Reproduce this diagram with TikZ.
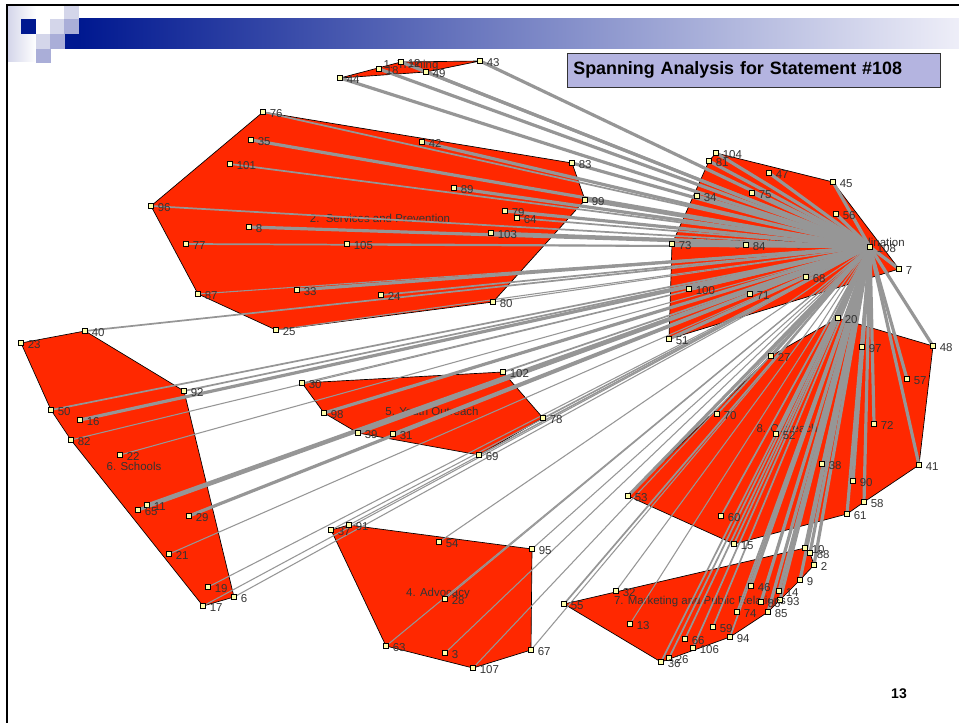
\documentclass[tikz,border=0pt]{standalone}
\usepackage{fontspec}
\setmainfont{Liberation Sans}
\usetikzlibrary{positioning}
\definecolor{HullRed}{RGB}{255,40,0}
\definecolor{LinkGray}{RGB}{150,150,150}
\definecolor{MarkYellow}{RGB}{255,255,170}
\definecolor{SlideBlue}{RGB}{0,24,144}
\definecolor{BarEnd}{RGB}{238,238,248}
\definecolor{PaleBlue}{RGB}{212,214,234}
\definecolor{MidBlue}{RGB}{170,174,216}
\definecolor{TitleFill}{RGB}{180,180,224}

\tikzset{
  hull/.style={fill=HullRed, draw=black, line width=0.5pt},
  link/.style={draw=LinkGray, line cap=round},
  pt/.style={draw=black, fill=MarkYellow, inner sep=0pt, minimum size=3.4pt, line width=0.4pt},
  ptlabel/.style={font=\fontsize{8.6}{9}\selectfont, text=black!80, inner sep=0pt},
  clulabel/.style={font=\fontsize{8.6}{9}\selectfont, text=black!80, inner sep=0pt},
}

\begin{document}
\begin{tikzpicture}[x=0.75pt, y=-0.75pt]
  \useasboundingbox (0,0) rectangle (959,723);

  % slide header
  \shade[left color=PaleBlue, right color=white] (8,6) rectangle (36,62);
  \fill[SlideBlue] (21,19) rectangle (36,34);
  \fill[PaleBlue] (50,19) rectangle (64,34);
  \fill[MidBlue] (64,19) rectangle (79,34);
  \fill[PaleBlue] (64,6) rectangle (79,19);
  \fill[PaleBlue] (36,34) rectangle (50,49);
  \fill[MidBlue] (50,34) rectangle (65,49);
  \fill[MidBlue] (36,49) rectangle (51,63);
  \fill[SlideBlue] (65,34) rectangle (79,49);
  \shade[left color=SlideBlue, right color=BarEnd] (79,19) rectangle (959,49);
  \draw[line width=1.1pt] (7,723) -- (7,5) -- (959,5);

  % statement positions
  \foreach \n/\x/\y in {
    44/340/78, 18/379/69, 12/401/62, 49/426/72, 43/480/61,
    76/263/112, 35/251/140, 101/230/164, 42/422/142, 83/572/163, 89/454/188,
    96/151/206, 99/585/200, 79/505/211, 64/517/218, 8/249/227, 103/491/233,
    77/186/244, 105/347/244, 33/297/290, 87/198/294, 24/381/295, 80/493/302, 25/276/330,
    104/716/153, 81/709/161, 47/769/173, 45/833/182, 75/752/193, 34/697/196,
    56/836/214, 73/672/244, 84/746/245, 108/870/247, 7/899/269, 68/806/277,
    100/689/289, 71/750/294, 51/669/339,
    20/838/318, 48/933/346, 97/862/347, 27/771/356, 57/907/379, 70/717/414,
    72/874/424, 52/776/434, 38/822/464, 41/919/465, 90/853/481, 53/628/496,
    58/864/502, 61/847/514, 60/721/516, 15/734/544,
    40/85/331, 23/21/343, 92/184/391, 50/51/410, 16/80/420, 82/71/440,
    22/120/455, 11/147/505, 65/138/510, 29/189/516, 21/169/554, 19/208/587,
    6/234/597, 17/203/606,
    30/302/383, 102/503/372, 98/324/413, 39/358/433, 31/393/434, 78/543/418, 69/479/455,
    37/331/530, 91/349/525, 54/439/542, 95/532/549, 28/445/599, 63/386/646,
    3/445/653, 107/473/668, 67/531/650,
    10/805/548, 88/810/553, 2/814/565, 9/800/580, 32/616/591, 46/751/586,
    14/779/591, 55/564/604, 93/780/600, 86/761/602, 74/737/612, 85/768/612,
    13/630/624, 59/713/627, 94/730/637, 66/685/639, 106/693/648, 26/669/658, 36/661/662}
    \coordinate (p\n) at (\x,\y);

  % cluster hulls
  \filldraw[hull] (p44) -- (p12) -- (p43) -- (p49) -- cycle;
  \filldraw[hull] (p76) -- (p83) -- (p99) -- (p80) -- (p25) -- (p87) -- (p96) -- cycle;
  \filldraw[hull] (p104) -- (p45) -- (p7) -- (p51) -- (p73) -- (p81) -- cycle;
  \filldraw[hull] (p20) -- (p48) -- (p41) -- (p58) -- (p61) -- (p15) -- (p53) -- (p27) -- cycle;
  \filldraw[hull] (p40) -- (p92) -- (p6) -- (p17) -- (p82) -- (p50) -- (p23) -- cycle;
  \filldraw[hull] (p30) -- (p102) -- (p78) -- (p69) -- (p39) -- (p98) -- cycle;
  \filldraw[hull] (p37) -- (p91) -- (p95) -- (p67) -- (p107) -- (p63) -- cycle;
  \filldraw[hull] (p55) -- (p10) -- (p88) -- (p2) -- (p9) -- (p85) -- (p94) -- (p36) -- cycle;

  % cluster names
  \node[clulabel] (c1) at (411,66) {1. Training};
  \node[clulabel] (c2) at (380,218) {2.\ \ Services and Prevention};
  \node[clulabel] (c3) at (798,244) {3. Interagency Linkages and Coordination};
  \node[clulabel] (c4) at (438,594) {4. Advocacy};
  \node[clulabel] (c5) at (432,411) {5. Youth Outreach};
  \node[clulabel] (c6) at (134,466) {6. Schools};
  \node[clulabel] (c7) at (700,602) {7. Marketing and Public Relations};
  \node[clulabel] (c8) at (787,428) {8. Outreach};

  % links from statement 108
  \foreach \n/\w in {
    44/2.4, 18/2.4, 12/2.4, 49/2.4, 43/2.4,
    76/1.3, 35/2.4, 101/1.3, 42/2.4, 83/2.4, 89/2.4, 96/1.3, 99/2.4, 79/2.4,
    64/1.3, 8/2.4, 103/2.4, 77/1.3, 105/1.3, 33/2.4, 87/0.8, 24/1.3, 80/0.8, 25/0.8,
    104/2.4, 81/2.4, 47/2.4, 45/2.4, 75/2.4, 34/2.4, 56/2.4, 73/2.4, 84/2.4,
    7/2.4, 68/2.4, 100/2.4, 71/2.4, 51/2.4,
    20/2.4, 48/2.4, 97/2.4, 27/2.4, 57/2.4, 70/1.3, 72/2.4, 52/2.4, 38/1.3,
    41/2.4, 90/2.4, 53/2.4, 58/2.4, 61/2.4, 60/1.3, 15/1.3,
    40/1.3, 92/1.3, 50/1.3, 16/2.4, 82/0.8, 22/0.8, 11/2.4, 65/2.4, 29/2.4,
    21/0.8, 19/0.8, 6/0.8, 17/0.8,
    30/0.8, 102/1.3, 98/2.4, 39/2.4, 31/2.4, 78/0.8, 69/0.8,
    37/0.8, 91/0.8, 54/0.8, 95/0.8, 28/0.8, 63/0.8, 3/0.8, 107/0.8, 67/0.8,
    10/2.4, 88/2.4, 2/2.4, 9/2.4, 32/0.8, 46/2.4, 14/2.4, 55/1.3, 93/2.4,
    86/2.4, 74/1.3, 85/2.4, 13/0.8, 59/1.3, 94/1.3, 66/1.3, 106/1.3, 26/1.3, 36/1.3}
    \draw[link, line width=\w pt] (p108) -- (p\n);

  % statement markers and numbers
  \foreach \n in {44,18,12,49,43,76,35,101,42,83,89,96,99,79,64,8,103,77,105,33,87,24,80,25,
    104,81,47,45,75,34,56,73,84,108,7,68,100,71,51,20,48,97,27,57,70,72,52,38,41,90,53,58,61,60,15,
    40,23,92,50,16,82,22,11,65,29,21,19,6,17,30,102,98,39,31,78,69,
    37,91,54,95,28,63,3,107,67,10,88,2,9,32,46,14,55,93,86,74,85,13,59,94,66,106,26,36} {
    \node[pt] (m\n) at (p\n) {};
    \node[ptlabel, anchor=west, right=3pt of m\n, yshift=-1pt] (l\n) {\n};
  }

  \node[draw=black!80, fill=TitleFill, line width=0.6pt, text width=271pt, align=left,
    inner xsep=4.5pt, minimum height=25.5pt, font=\bfseries\fontsize{13.4}{15}\selectfont]
    (title) at (754,70) {Spanning Analysis for Statement \#108};
  \node[font=\bfseries\fontsize{10.5}{12}\selectfont] (pagenum) at (899,694) {13};
\end{tikzpicture}
\end{document}
